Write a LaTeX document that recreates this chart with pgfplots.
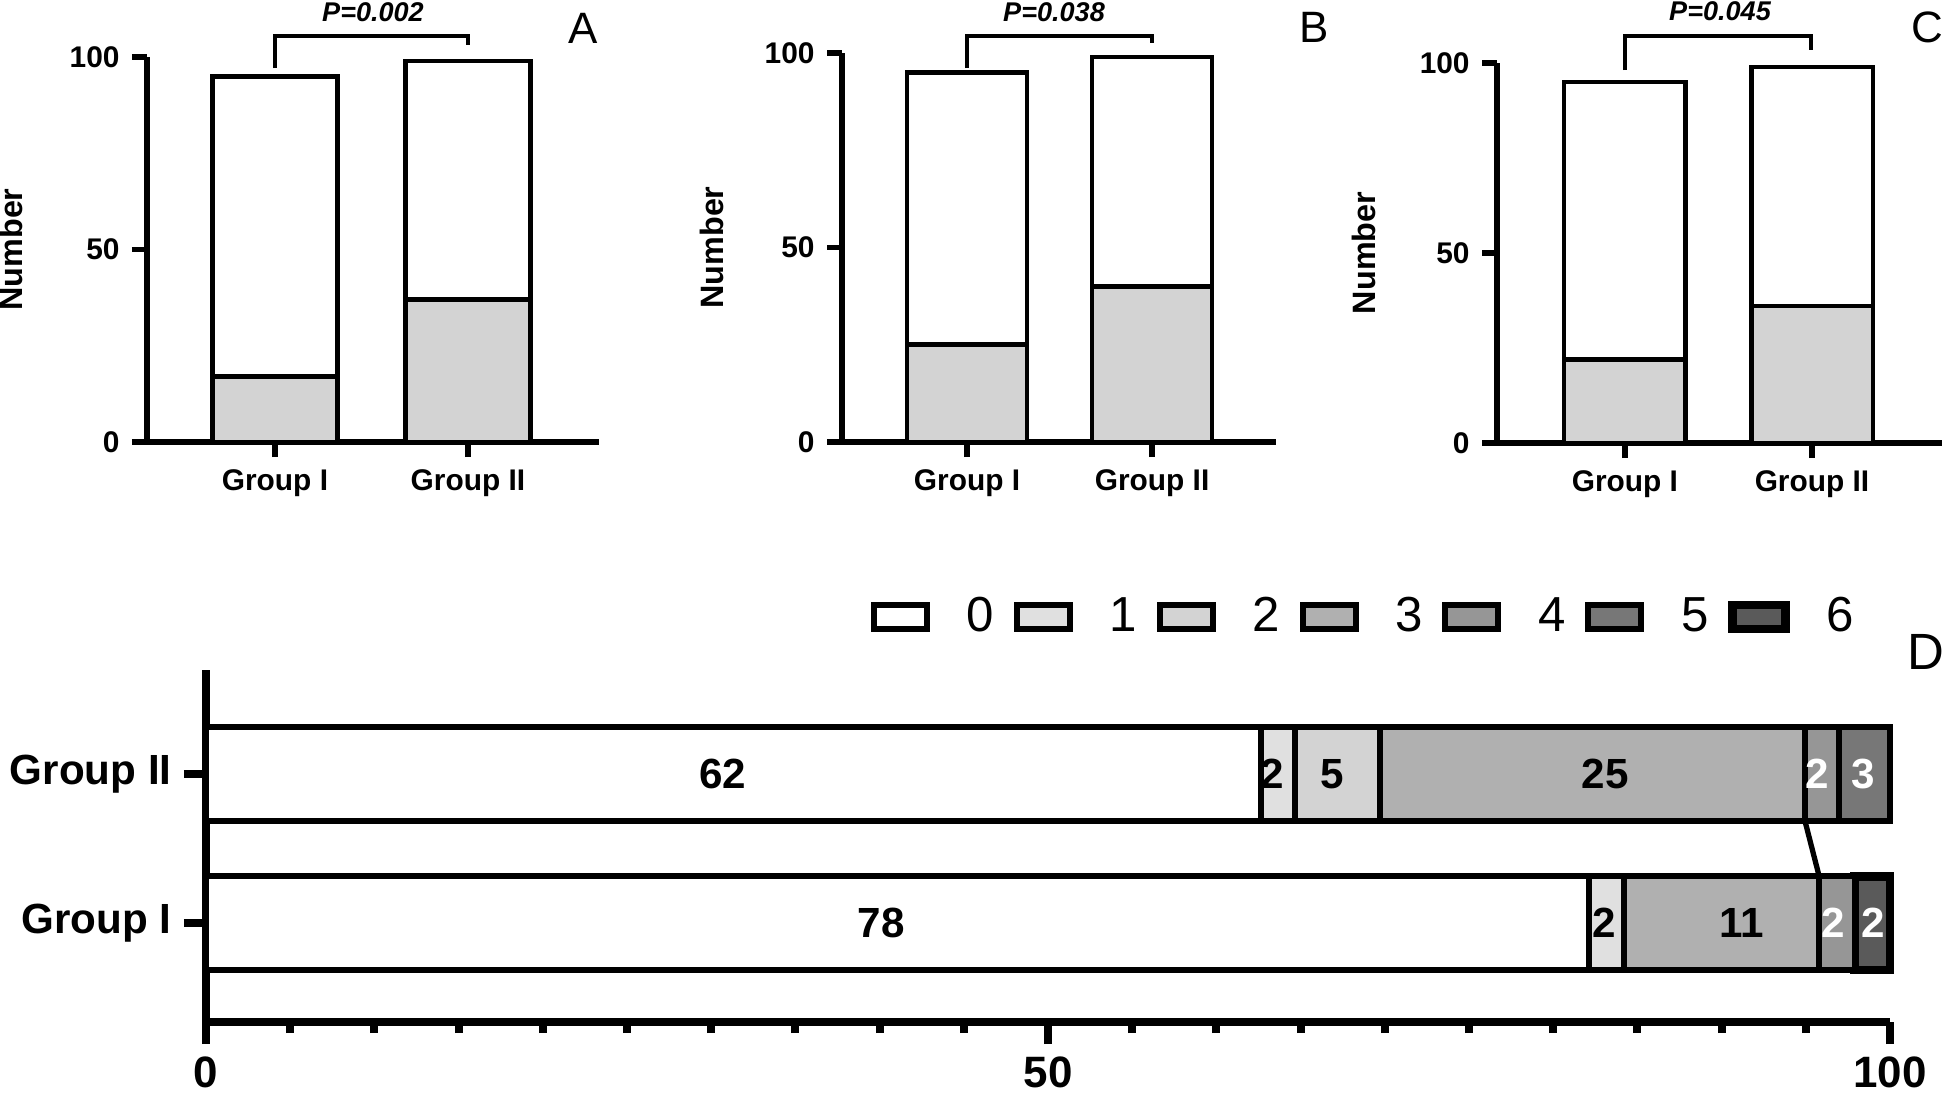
\documentclass[border=0pt]{standalone}
\usepackage{pgfplots}
\pgfplotsset{compat=1.18}
\usepackage{fontspec}
\setmainfont{Liberation Sans}

\definecolor{barGray}{HTML}{D3D3D3}
\definecolor{s0}{HTML}{FFFFFF}
\definecolor{s1}{HTML}{E0E0E0}
\definecolor{s2}{HTML}{D3D3D3}
\definecolor{s3}{HTML}{B0B0B0}
\definecolor{s4}{HTML}{969696}
\definecolor{s5}{HTML}{777777}
\definecolor{s6}{HTML}{5A5A5A}

\pgfplotsset{
  smallpanel/.style={
    scale only axis, anchor=south west,
    ybar stacked, bar width=0.65,
    ymin=0, ymax=100,
    axis lines=left, axis line style={-, line width=1.6pt},
    clip=false,
    xtick={0,1}, xticklabels={Group I, Group II},
    ytick={0,50,100},
    tick align=outside, major tick length=1.5mm,
    tick style={line width=1.6pt, black},
    ticklabel style={font=\fontsize{8.5}{10}\selectfont\bfseries},
    /pgf/number format/assume math mode=true,
    ylabel={Number},
    every axis y label/.style={at={(axis description cs:-0.3,0.5)}, rotate=90,
      anchor=center, font=\fontsize{9.2}{11}\selectfont\bfseries},
  },
  boxlegend/.style={legend image code/.code={%
    \draw[##1] (0.3mm,-1.2mm) rectangle (5.6mm,1.2mm);}},
  dpanel/.style={
    scale only axis, anchor=south west, at={(20.6mm,-102.2mm)},
    width=168.4mm, height=35.2mm,
    xmin=0, xmax=100, ymin=-0.664, ymax=1.698, clip=false,
  },
}

\begin{document}
\begin{tikzpicture}
\path[use as bounding box] (0,0) rectangle (194.5mm,-109.9mm);

% Panel A
\begin{axis}[smallpanel, at={(14.7mm,-44.2mm)}, width=45.2mm, height=38.5mm,
  xmin=-0.663, xmax=1.679]
\addplot[fill=barGray, draw=black, line width=1.3pt] coordinates {(0,17) (1,37)};
\addplot[fill=white, draw=black, line width=1.3pt] coordinates {(0,78) (1,62)};
\end{axis}

% Panel B
\begin{axis}[smallpanel, at={(84.2mm,-44.2mm)}, width=43.4mm, height=38.9mm,
  xmin=-0.676, xmax=1.670]
\addplot[fill=barGray, draw=black, line width=1.3pt] coordinates {(0,25) (1,40)};
\addplot[fill=white, draw=black, line width=1.3pt] coordinates {(0,70) (1,59)};
\end{axis}

% Panel C
\begin{axis}[smallpanel, at={(149.7mm,-44.3mm)}, width=44.5mm, height=38.0mm,
  xmin=-0.684, xmax=1.695]
\addplot[fill=barGray, draw=black, line width=1.3pt] coordinates {(0,22) (1,36)};
\addplot[fill=white, draw=black, line width=1.3pt] coordinates {(0,73) (1,63)};
\end{axis}

% Panel D (shares of each group, in %)
\begin{axis}[dpanel,
  xbar stacked, bar width=0.63,
  axis lines=left, axis line style={-, line width=2.4pt},
  ytick={0,1}, yticklabels={Group I, Group II},
  xtick={0,50,100}, minor x tick num=9,
  tick align=outside, major tick length=2.2mm, minor tick length=1.1mm,
  tick style={line width=2.3pt, black},
  xticklabel style={font=\fontsize{12.5}{14}\selectfont\bfseries},
  yticklabel style={font=\fontsize{12}{14}\selectfont\bfseries},
  /pgf/number format/assume math mode=true,
  legend columns=7,
  legend style={draw=none, fill=none, inner sep=0pt, outer sep=0pt,
    at={(axis description cs:0.3949,1.1506)}, anchor=west,
    nodes={inner sep=0pt}, font=\fontsize{14}{16}\selectfont,
    /tikz/every odd column/.append style={column sep=3.7mm},
    /tikz/every even column/.append style={column sep=1.95mm}},
]
\addplot[boxlegend, fill=s0, draw=black, line width=1.7pt] coordinates {(82.105,0) (62.626,1)};
\addplot[boxlegend, fill=s1, draw=black, line width=1.7pt] coordinates {(2.105,0) (2.020,1)};
\addplot[boxlegend, fill=s2, draw=black, line width=1.7pt] coordinates {(0,0) (5.051,1)};
\addplot[boxlegend, fill=s3, draw=black, line width=1.7pt] coordinates {(11.579,0) (25.253,1)};
\addplot[boxlegend, fill=s4, draw=black, line width=1.7pt] coordinates {(2.105,0) (2.020,1)};
\addplot[boxlegend, fill=s5, draw=black, line width=1.7pt] coordinates {(0,0) (3.030,1)};
\addplot[boxlegend, fill=s6, draw=black, line width=2.5pt] coordinates {(2.105,0) (0,1)};
\legend{0,1,2,3,4,5,6}
\end{axis}

% Panel D: counts in the segments and the connecting line
\begin{axis}[dpanel, hide axis]
\addplot[draw=none, mark=none, nodes near coords, point meta=explicit symbolic,
  every node near coord/.append style={anchor=center, text=black,
    font=\fontsize{12}{14}\selectfont\bfseries}]
  coordinates {(30.7,1) [62] (63.3,1) [2] (66.9,1) [5] (83.1,1) [25]
               (40.1,0) [78] (83.0,0) [2] (91.2,0) [11]};
\addplot[draw=none, mark=none, nodes near coords, point meta=explicit symbolic,
  every node near coord/.append style={anchor=center, text=white,
    font=\fontsize{12}{14}\selectfont\bfseries}]
  coordinates {(95.7,1) [2] (98.4,1) [3] (96.6,0) [2] (99.0,0) [2]};
\addplot[black, line width=1.5pt, mark=none] coordinates {(94.95,0.685) (95.79,0.315)};
\end{axis}

% brackets, p-values and panel letters (positions in px of the reference)
\begin{scope}[x=0.1mm, y=-0.1mm, line width=1.4pt]
\draw (275,68) -- (275,36) -- (468,36) -- (468,45);
\draw (967,68) -- (967,36) -- (1152,36) -- (1152,43);
\draw (1625,70) -- (1625,36) -- (1811,36) -- (1811,50);
\node[font=\fontsize{7.7}{9}\selectfont\bfseries\itshape] at (373,12) {P=0.002};
\node[font=\fontsize{7.7}{9}\selectfont\bfseries\itshape] at (1054,12) {P=0.038};
\node[font=\fontsize{7.7}{9}\selectfont\bfseries\itshape] at (1720,11) {P=0.045};
\node[font=\fontsize{12.5}{14}\selectfont] at (583,28) {A};
\node[font=\fontsize{12.5}{14}\selectfont] at (1314,27) {B};
\node[font=\fontsize{12.5}{14}\selectfont] at (1927,27) {C};
\node[font=\fontsize{14.5}{16}\selectfont] at (1926,652) {D};
\end{scope}
\end{tikzpicture}
\end{document}
